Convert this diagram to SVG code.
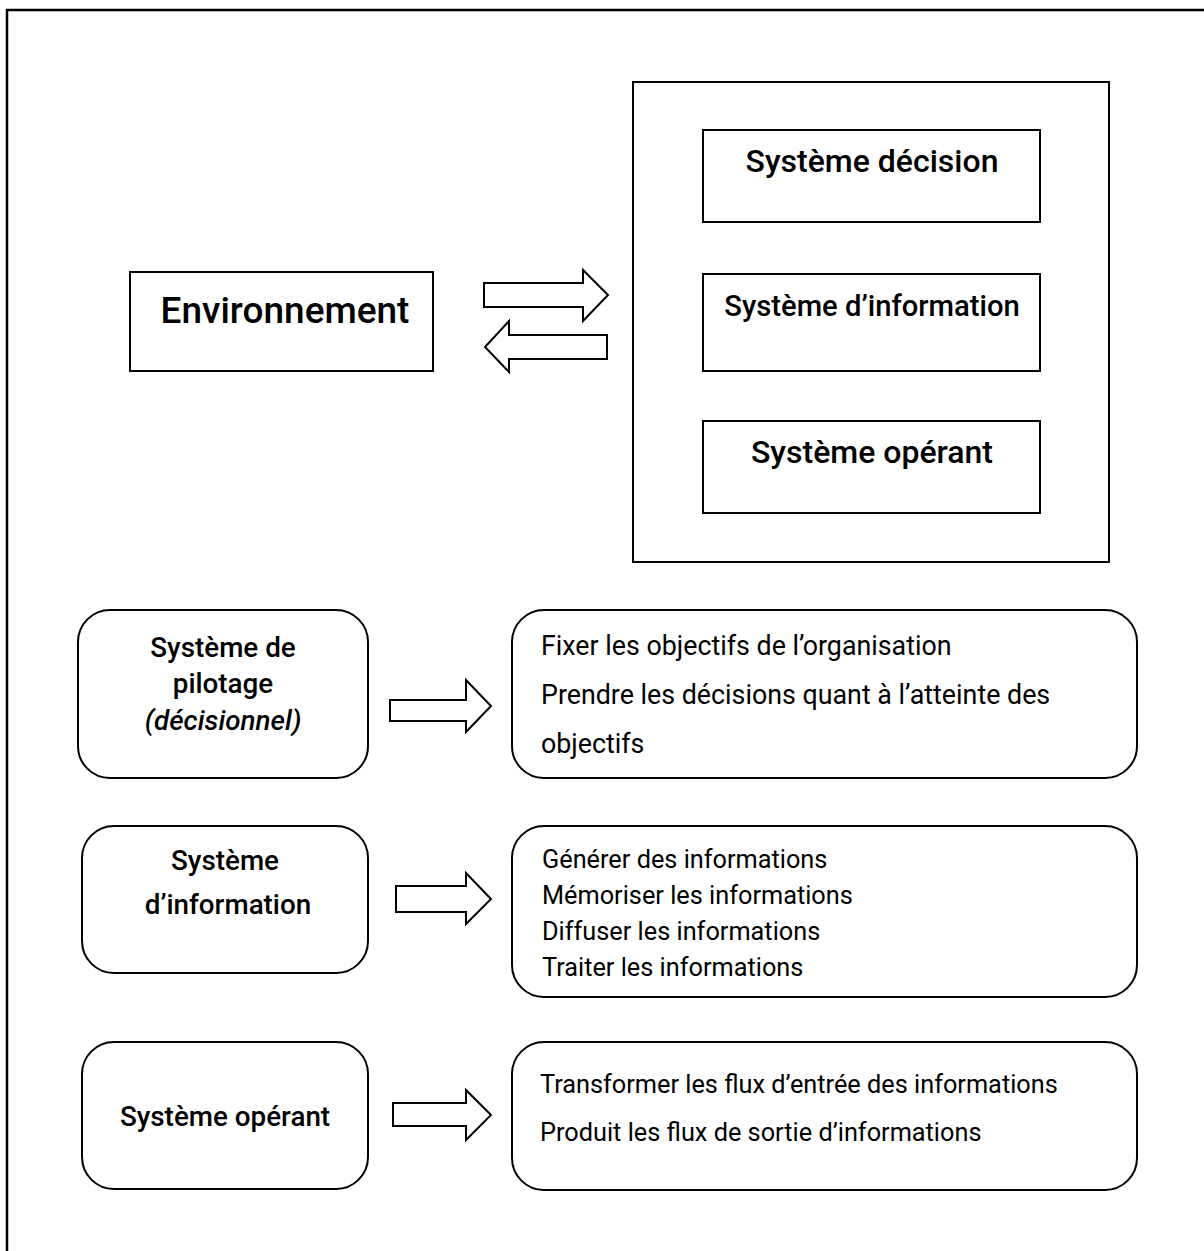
<svg xmlns="http://www.w3.org/2000/svg" width="1204" height="1251" viewBox="0 0 1204 1251">
  <defs>
    <style>
      .frame { fill: none; stroke: #000; stroke-width: 2.5; }
      .box { fill: #fff; stroke: #000; stroke-width: 2; }
      .arrow { fill: #fff; stroke: #000; stroke-width: 2; stroke-linejoin: miter; }
      text { font-family: Roboto, "Liberation Sans", sans-serif; fill: #000; }
      .title { font-size: 32px; font-weight: 500; text-anchor: middle; }
      .env { font-size: 37px; font-weight: 500; text-anchor: middle; }
      .label { font-size: 27.8px; font-weight: 500; text-anchor: middle; }
      .item { font-size: 25.3px; }
      .item-lg { font-size: 26.8px; }
    </style>
  </defs>
  <rect width="1204" height="1251" fill="#fff"/>

  <!-- page frame (open on the right and bottom) -->
  <path class="frame" d="M7,1251 V10 H1204"/>

  <!-- top diagram: environment and the enterprise -->
  <g id="environnement">
    <rect class="box" x="130" y="272" width="303" height="99"/>
    <text class="env" x="285" y="323">Environnement</text>
  </g>

  <g id="entreprise">
    <rect class="box" x="633" y="82" width="476" height="480"/>
  </g>

  <g id="systeme-decision">
    <rect class="box" x="703" y="130" width="337" height="92"/>
    <text class="title" x="872" y="172">Système décision</text>
  </g>

  <g id="systeme-information">
    <rect class="box" x="703" y="274" width="337" height="97"/>
    <text class="title" x="872" y="316" style="font-size:29.2px">Système d’information</text>
  </g>

  <g id="systeme-operant">
    <rect class="box" x="703" y="421" width="337" height="92"/>
    <text class="title" x="872" y="463">Système opérant</text>
  </g>

  <!-- lower part: each subsystem and its roles -->
  <g id="pilotage">
    <rect class="box" x="78" y="610" width="290" height="168" rx="32"/>
    <text class="label" x="223" y="657">Système de</text>
    <text class="label" x="223" y="693">pilotage</text>
    <text class="label" x="223" y="730" font-style="italic">(décisionnel)</text>
  </g>

  <g id="pilotage-roles">
    <rect class="box" x="512" y="610" width="625" height="168" rx="32"/>
    <text class="item-lg" x="541" y="655">Fixer les objectifs de l’organisation</text>
    <text class="item-lg" x="541" y="704">Prendre les décisions quant à l’atteinte des</text>
    <text class="item-lg" x="541" y="753">objectifs</text>
  </g>

  <g id="information">
    <rect class="box" x="82" y="826" width="286" height="147" rx="32"/>
    <text class="label" x="225" y="870">Système</text>
    <text class="label" x="228" y="914">d’information</text>
  </g>

  <g id="information-roles">
    <rect class="box" x="512" y="826" width="625" height="171" rx="32"/>
    <text class="item" x="542" y="868">Générer des informations</text>
    <text class="item" x="542" y="904">Mémoriser les informations</text>
    <text class="item" x="542" y="940">Diffuser les informations</text>
    <text class="item" x="542" y="976">Traiter les informations</text>
  </g>

  <g id="operant">
    <rect class="box" x="82" y="1042" width="286" height="147" rx="32"/>
    <text class="label" x="225" y="1126">Système opérant</text>
  </g>

  <g id="operant-roles">
    <rect class="box" x="512" y="1042" width="625" height="148" rx="32"/>
    <text class="item" x="540" y="1093">Transformer les flux d’entrée des informations</text>
    <text class="item" x="540" y="1141">Produit les flux de sortie d’informations</text>
  </g>

  <!-- block arrows -->
  <g id="connectors">
    <polygon class="arrow" points="484,283 583,283 583,270 608,295 583,321 583,307 484,307"/>
    <polygon class="arrow" points="607,335 509,335 509,321 485,347 509,372 509,359 607,359"/>
    <polygon class="arrow" points="390,700 466,700 466,680 491,706 466,732 466,721 390,721"/>
    <polygon class="arrow" points="396,886 466,886 466,873 491,899 466,924 466,912 396,912"/>
    <polygon class="arrow" points="393,1103 466,1103 466,1090 491,1115 466,1140 466,1126 393,1126"/>
  </g>
</svg>
